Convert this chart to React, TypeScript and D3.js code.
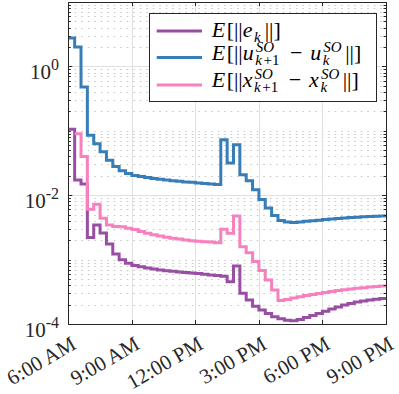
import { useEffect, useRef } from 'react';
import * as d3 from 'd3';

const W = 399;
const H = 394;

// start of every 18-minute step, in hours of the day
const stepHours = [
  6, 6.3, 6.6, 6.9, 7.2, 7.5, 7.8, 8.1, 8.4, 8.7,
  9, 9.3, 9.6, 9.9, 10.2, 10.5, 10.8, 11.1, 11.4, 11.7,
  12, 12.3, 12.6, 12.9, 13.2, 13.5, 13.8, 14.1, 14.4, 14.7,
  15, 15.3, 15.6, 15.9, 16.2, 16.5, 16.8, 17.1, 17.4, 17.7,
  18, 18.3, 18.6, 18.9, 19.2, 19.5, 19.8, 20.1, 20.4, 20.7,
];
const endHour = 21;

// E[||e_k||]
const errNorm = [
  0.1055, 0.01729, 0.01499, 0.00221, 0.00345, 0.00259, 0.00175, 0.00122, 0.000996, 0.000879,
  0.00081, 0.000773, 0.00074, 0.000714, 0.000692, 0.000674, 0.000658, 0.000644, 0.00063, 0.000619,
  0.000608, 0.000593, 0.000578, 0.000564, 0.00055, 0.000453, 0.000795, 0.000299, 0.000235, 0.000188,
  0.000165, 0.000146, 0.00013, 0.000121, 0.000114, 0.000112, 0.000117, 0.000126, 0.000135, 0.000146,
  0.000158, 0.000171, 0.000184, 0.000197, 0.000209, 0.000219, 0.000227, 0.000235, 0.000242, 0.000248,
];

// E[||u_{k+1} - u_k||]
const uDiff = [
  2.77, 2.0, 0.478, 0.0851, 0.0628, 0.0471, 0.0348, 0.028, 0.0239, 0.0218,
  0.0203, 0.01947, 0.01878, 0.01818, 0.01767, 0.01723, 0.0168, 0.01645, 0.0161, 0.01582,
  0.01553, 0.01526, 0.01499, 0.01467, 0.0724, 0.0315, 0.0606, 0.0207, 0.0167, 0.0121,
  0.0086, 0.00634, 0.00485, 0.00406, 0.00384, 0.00378, 0.00384, 0.00393, 0.00401, 0.0041,
  0.00419, 0.00428, 0.00436, 0.00444, 0.0045, 0.00456, 0.00461, 0.00466, 0.00471, 0.00476,
];

// E[||x_{k+1} - x_k||]  (no value for the first step)
const xDiff = [
  null, 0.0898, 0.0398, 0.00606, 0.00724, 0.00439, 0.00345, 0.00327, 0.00324, 0.00307,
  0.00294, 0.00274, 0.00256, 0.00243, 0.00232, 0.00223, 0.00215, 0.00208, 0.00202, 0.00197,
  0.00193, 0.0019, 0.00187, 0.00183, 0.00296, 0.00256, 0.00476, 0.00159, 0.00128, 0.000934,
  0.000677, 0.000482, 0.000337, 0.000231, 0.00024, 0.000253, 0.000264, 0.000276, 0.000287, 0.000298,
  0.000309, 0.000319, 0.00033, 0.000339, 0.000349, 0.000358, 0.000367, 0.000375, 0.000382, 0.000389,
];

const seriesColors = ['#984ea3', '#377eb8', '#f781bf'];

const xTicks = [6, 9, 12, 15, 18, 21];
const xTickLabels = ['6:00 AM', '9:00 AM', '12:00 PM', '3:00 PM', '6:00 PM', '9:00 PM'];
const yTickExps = [-4, -2, 0];

// legend entries as runs of math text
const legendEntries = [
  [{ t: 'E', it: true }, { t: '[||' }, { t: 'e', it: true }, { sub: [{ t: 'k', it: true }] }, { t: '||]' }],
  [
    { t: 'E', it: true }, { t: '[||' }, { t: 'u', it: true },
    { sup: [{ t: 'SO', it: true }], sub: [{ t: 'k', it: true }, { t: '+1' }] },
    { t: '−', pad: 8 }, { t: 'u', it: true },
    { sup: [{ t: 'SO', it: true }], sub: [{ t: 'k', it: true }] }, { t: '||]' },
  ],
  [
    { t: 'E', it: true }, { t: '[||' }, { t: 'x', it: true },
    { sup: [{ t: 'SO', it: true }], sub: [{ t: 'k', it: true }, { t: '+1' }] },
    { t: '−', pad: 8 }, { t: 'x', it: true },
    { sup: [{ t: 'SO', it: true }], sub: [{ t: 'k', it: true }] }, { t: '||]' },
  ],
];

const FONT = '"Liberation Serif", "Times New Roman", serif';
const AXIS = '#262626';

export default function App() {
  const svgRef = useRef<SVGSVGElement>(null);

  useEffect(() => {
    const svg = d3.select(svgRef.current);
    svg.selectAll('*').remove();

    const margin = { top: 2, right: 13, bottom: 70, left: 68.3 };
    const x = d3.scaleLinear().domain([6, endHour]).range([margin.left, W - margin.right]);
    const y = d3.scaleLog().domain([1e-4, 10]).range([H - margin.bottom, margin.top]);
    const [x0, x1] = x.range();
    const [y0, y1] = y.range();

    svg.append('rect').attr('width', W).attr('height', H).attr('fill', '#fff');

    // minor (dotted) and major grid
    const minorVals: number[] = [];
    for (let e = -4; e <= 0; e++) {
      for (let m = 1; m <= 9; m++) {
        const v = m * Math.pow(10, e);
        if (!(m === 1 && yTickExps.includes(e))) minorVals.push(v);
      }
    }
    const grid = svg.append('g');
    grid.selectAll('.minor')
      .data(minorVals)
      .join('line')
      .attr('x1', x0).attr('x2', x1)
      .attr('y1', d => Math.round(y(d)) + 0.5).attr('y2', d => Math.round(y(d)) + 0.5)
      .attr('stroke', '#c4c4c4')
      .attr('stroke-dasharray', '1.5,5');
    grid.selectAll('.majy')
      .data(yTickExps.slice(1).map(e => Math.pow(10, e)))
      .join('line')
      .attr('x1', x0).attr('x2', x1)
      .attr('y1', d => Math.round(y(d)) + 0.5).attr('y2', d => Math.round(y(d)) + 0.5)
      .attr('stroke', '#e0e0e0');
    grid.selectAll('.majx')
      .data(xTicks.slice(1, -1))
      .join('line')
      .attr('x1', d => Math.round(x(d)) + 0.5).attr('x2', d => Math.round(x(d)) + 0.5)
      .attr('y1', y0).attr('y2', y1)
      .attr('stroke', '#e0e0e0');

    // step lines
    const allSeries = [errNorm, uDiff, xDiff];
    allSeries.forEach((vals, i) => {
      const pts = vals.map((v, k) => ({ t: stepHours[k], v }));
      pts.push({ t: endHour, v: vals[vals.length - 1] });
      const line = d3.line<{ t: number; v: number | null }>()
        .defined(d => d.v != null)
        .x(d => x(d.t))
        .y(d => y(d.v as number))
        .curve(d3.curveStepAfter);
      svg.append('path')
        .datum(pts)
        .attr('fill', 'none')
        .attr('stroke', seriesColors[i])
        .attr('stroke-width', 3)
        .attr('d', line);
    });

    // box + ticks
    svg.append('rect')
      .attr('x', Math.round(x0) + 0.5).attr('y', Math.round(y1) + 0.5)
      .attr('width', Math.round(x1) - Math.round(x0)).attr('height', Math.round(y0) - Math.round(y1))
      .attr('fill', 'none').attr('stroke', AXIS).attr('stroke-width', 1);

    const ticks = svg.append('g').attr('stroke', AXIS);
    const majorVals = yTickExps.map(e => Math.pow(10, e));
    [...minorVals, ...majorVals].forEach(v => {
      const len = majorVals.includes(v) ? 4 : 2.5;
      const yy = Math.round(y(v)) + 0.5;
      ticks.append('line').attr('x1', x0).attr('x2', x0 + len).attr('y1', yy).attr('y2', yy);
      ticks.append('line').attr('x1', x1).attr('x2', x1 - len).attr('y1', yy).attr('y2', yy);
    });
    xTicks.forEach(t => {
      const xx = Math.round(x(t)) + 0.5;
      ticks.append('line').attr('x1', xx).attr('x2', xx).attr('y1', y0).attr('y2', y0 - 4);
      ticks.append('line').attr('x1', xx).attr('x2', xx).attr('y1', y1).attr('y2', y1 + 4);
    });

    // y tick labels
    yTickExps.forEach(e => {
      const txt = svg.append('text')
        .attr('x', 59)
        .attr('y', y(Math.pow(10, e)) + 12.5)
        .attr('text-anchor', 'end')
        .attr('font-family', FONT)
        .attr('font-size', 21)
        .attr('fill', AXIS);
      txt.append('tspan').text('10');
      txt.append('tspan').attr('font-size', 16).attr('dy', -9).text(String(e));
    });

    // x tick labels, rotated
    xTicks.forEach((t, i) => {
      svg.append('text')
        .attr('transform', `translate(${x(t) + 9},${y0 + 24}) rotate(-30)`)
        .attr('text-anchor', 'end')
        .attr('font-family', FONT)
        .attr('font-size', 21)
        .attr('fill', AXIS)
        .text(xTickLabels[i]);
    });

    // legend
    const lg = svg.append('g');
    lg.append('rect')
      .attr('x', 149.5).attr('y', 13.5).attr('width', 227).attr('height', 88)
      .attr('fill', '#fff').attr('stroke', AXIS).attr('stroke-width', 1);

    const lineYs = [31, 57.5, 85];
    const baseYs = [37, 60, 87];

    const putRun = (r: any, px: number, py: number, size: number) => {
      const node = lg.append('text')
        .attr('x', px).attr('y', py)
        .attr('font-family', FONT)
        .attr('font-size', size)
        .attr('font-style', r.it ? 'italic' : 'normal')
        .attr('fill', '#000')
        .text(r.t)
        .node() as SVGTextElement;
      return node.getComputedTextLength() + (r.it ? 1.5 : 0);
    };
    const putRuns = (runs: any[], px: number, py: number, size: number) => {
      let cx = px;
      runs.forEach(r => { cx += putRun(r, cx, py, size); });
      return cx - px;
    };

    legendEntries.forEach((tokens, i) => {
      lg.append('line')
        .attr('x1', 156.7).attr('x2', 202)
        .attr('y1', lineYs[i]).attr('y2', lineYs[i])
        .attr('stroke', seriesColors[i]).attr('stroke-width', 3);
      let cx = 211.7;
      tokens.forEach((tok: any) => {
        if (tok.t != null) {
          const pad = tok.pad || 0;
          cx += pad;
          cx += putRun(tok, cx, baseYs[i], 22);
          cx += pad;
        } else {
          const wSup = tok.sup ? putRuns(tok.sup, cx + 0.5, baseYs[i] - 8.5, 15) : 0;
          const wSub = tok.sub ? putRuns(tok.sub, cx, baseYs[i] + 5, 15) : 0;
          cx += Math.max(wSup, wSub) + 2.5;
        }
      });
    });
  }, []);

  return (
    <svg
      ref={svgRef}
      width={W}
      height={H}
      style={{ position: 'absolute', left: 0, top: 0, display: 'block' }}
    />
  );
}
